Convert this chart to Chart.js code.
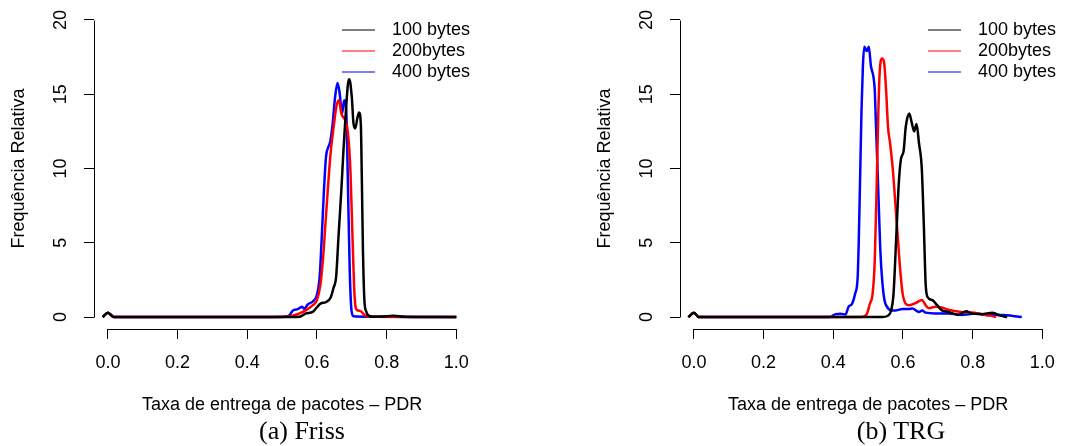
<!DOCTYPE html>
<html><head><meta charset="utf-8">
<script src="https://cdn.jsdelivr.net/npm/chart.js@4.4.1/dist/chart.umd.min.js"></script>
<style>
body{margin:0;background:#fff;width:1068px;height:446px;overflow:hidden;position:relative}
canvas{position:absolute;top:0}
#c1{left:0}
#c2{left:586px}
.cap{position:absolute;top:418px;width:240px;text-align:center;font:26px 'Liberation Serif','Times New Roman',serif;line-height:26px;color:#000}
</style></head><body>
<canvas id="c1" width="482" height="446"></canvas>
<canvas id="c2" width="482" height="446"></canvas>
<div class="cap" style="left:182px">(a) Friss</div>
<div class="cap" style="left:781px">(b) TRG</div>
<script>
// ---- labels / ticks ----
const seriesLabels = ['100 bytes', '200bytes', '400 bytes'];
const seriesColors = ['#000000', '#ff0000', '#0000ff'];
const xTickValues = [0, 0.2, 0.4, 0.6, 0.8, 1.0];
const xTickLabels = ['0.0', '0.2', '0.4', '0.6', '0.8', '1.0'];
const yTickValues = [0, 5, 10, 15, 20];
const xTitle = 'Taxa de entrega de pacotes – PDR';
const yTitle = 'Frequência Relativa';

// ---- (a) Friss ----
const friss100X = [-0.015, 0.0, 0.017, 0.5, 0.55, 0.569, 0.588, 0.597, 0.611, 0.625, 0.639, 0.648, 0.655, 0.662, 0.670, 0.676, 0.682, 0.689, 0.693, 0.700, 0.705, 0.710, 0.716, 0.721, 0.726, 0.729, 0.732, 0.736, 0.741, 0.748, 0.76, 0.80, 0.82, 0.85, 1.0];
const friss100Y = [0, 0.3, 0, 0, 0.03, 0.25, 0.35, 0.58, 0.92, 1.0, 1.3, 2.0, 2.7, 5.5, 8.55, 11.2, 13.5, 15.7, 16.0, 14.8, 13.0, 12.7, 13.4, 13.76, 12.9, 9.0, 4.5, 1.2, 0.4, 0.1, 0.03, 0.05, 0.1, 0.03, 0];
const friss200X = [-0.015, 0.0, 0.017, 0.46, 0.50, 0.53, 0.55, 0.569, 0.588, 0.600, 0.610, 0.618, 0.625, 0.633, 0.639, 0.649, 0.656, 0.663, 0.670, 0.677, 0.682, 0.689, 0.696, 0.702, 0.708, 0.715, 0.724, 0.738, 0.76, 1.0];
const friss200Y = [0, 0.3, 0, 0, 0.03, 0.1, 0.25, 0.47, 0.8, 1.14, 2.2, 4.1, 6.5, 9.2, 11.0, 13.0, 14.2, 14.6, 13.7, 13.4, 13.2, 12.4, 9.9, 5.4, 1.4, 0.47, 0.42, 0.1, 0.02, 0];
const friss400X = [-0.015, 0.0, 0.017, 0.45, 0.51, 0.522, 0.531, 0.545, 0.557, 0.564, 0.573, 0.588, 0.600, 0.608, 0.614, 0.620, 0.626, 0.632, 0.638, 0.645, 0.652, 0.659, 0.665, 0.672, 0.678, 0.684, 0.689, 0.694, 0.699, 0.705, 0.75, 1.0];
const friss400Y = [0, 0.3, 0, 0, 0.03, 0.15, 0.45, 0.54, 0.7, 0.55, 0.84, 1.05, 1.5, 2.8, 5.5, 8.5, 10.8, 11.4, 11.8, 13.0, 14.8, 15.75, 15.1, 13.7, 14.6, 13.9, 8.8, 3.2, 0.47, 0.05, 0.02, 0];

// ---- (b) TRG ----
const trg100X = [-0.016, 0.0, 0.014, 0.54, 0.557, 0.566, 0.573, 0.580, 0.588, 0.594, 0.602, 0.608, 0.618, 0.625, 0.632, 0.639, 0.646, 0.654, 0.660, 0.665, 0.670, 0.684, 0.698, 0.712, 0.730, 0.758, 0.782, 0.796, 0.825, 0.857, 0.880, 0.899];
const trg100Y = [0, 0.3, 0, 0, 0.1, 0.45, 1.6, 5.0, 9.0, 10.6, 11.2, 12.8, 13.7, 13.1, 12.5, 13.0, 11.7, 10.0, 6.1, 2.3, 1.37, 1.15, 0.8, 0.45, 0.35, 0.15, 0.4, 0.25, 0.2, 0.3, 0.1, 0];
const trg200X = [-0.016, 0.0, 0.014, 0.48, 0.496, 0.505, 0.513, 0.519, 0.524, 0.529, 0.533, 0.540, 0.546, 0.552, 0.557, 0.563, 0.571, 0.578, 0.585, 0.592, 0.599, 0.608, 0.618, 0.637, 0.655, 0.665, 0.674, 0.693, 0.711, 0.730, 0.768, 0.805, 0.833, 0.850, 0.867];
const trg200Y = [0, 0.3, 0, 0, 0.2, 0.9, 1.6, 3.8, 8.3, 13.5, 16.4, 17.4, 17.1, 15.1, 12.8, 11.7, 9.9, 7.7, 5.4, 3.2, 1.6, 0.9, 0.8, 0.95, 1.15, 0.8, 0.6, 0.7, 0.65, 0.5, 0.35, 0.3, 0.15, 0.1, 0];
const trg400X = [-0.016, 0.0, 0.014, 0.39, 0.407, 0.421, 0.435, 0.444, 0.454, 0.463, 0.470, 0.473, 0.477, 0.481, 0.485, 0.489, 0.496, 0.502, 0.508, 0.515, 0.519, 0.522, 0.526, 0.531, 0.535, 0.541, 0.547, 0.554, 0.566, 0.580, 0.599, 0.618, 0.627, 0.646, 0.655, 0.665, 0.693, 0.730, 0.768, 0.790, 0.815, 0.840, 0.862, 0.890, 0.915, 0.941];
const trg400Y = [0, 0.3, 0, 0, 0.2, 0.22, 0.18, 0.7, 0.9, 1.6, 2.7, 5.0, 9.4, 13.9, 16.9, 18.2, 17.9, 18.2, 16.9, 16.2, 15.3, 13.3, 10.6, 7.2, 4.5, 2.3, 1.14, 0.7, 0.45, 0.45, 0.55, 0.55, 0.58, 0.35, 0.45, 0.3, 0.25, 0.25, 0.15, 0.2, 0.25, 0.15, 0.15, 0.15, 0.08, 0];

const FONT = "'Liberation Sans', Arial, Helvetica, sans-serif";
Chart.defaults.font.family = FONT;
Chart.defaults.font.size = 18;
Chart.defaults.color = '#000';

const rStyle = {
  id: 'rStyle',
  afterDraw(chart) {
    const {ctx, chartArea, scales: {x, y}} = chart;
    ctx.save();
    ctx.strokeStyle = '#000';
    ctx.lineWidth = 1;
    // detached R-style axis lines
    const ax = Math.round(chartArea.left) + 0.5;
    const ay = Math.round(chartArea.bottom) + 0.5;
    ctx.beginPath();
    ctx.moveTo(ax, Math.round(y.getPixelForValue(yTickValues[0])) + 0.5);
    ctx.lineTo(ax, Math.round(y.getPixelForValue(yTickValues[yTickValues.length - 1])) + 0.5);
    ctx.moveTo(Math.round(x.getPixelForValue(xTickValues[0])), ay);
    ctx.lineTo(Math.round(x.getPixelForValue(xTickValues[xTickValues.length - 1])) + 1, ay);
    ctx.stroke();
    // rotated y tick labels
    ctx.fillStyle = '#000';
    ctx.font = '18px ' + FONT;
    ctx.textAlign = 'center';
    ctx.textBaseline = 'middle';
    yTickValues.forEach(v => {
      ctx.save();
      ctx.translate(61.5, y.getPixelForValue(v));
      ctx.rotate(-Math.PI / 2);
      ctx.fillText(String(v), 0, 0);
      ctx.restore();
    });
    // legend (bty = "n")
    chart.data.datasets.forEach((ds, i) => {
      const yy = 30 + 21 * i;
      ctx.strokeStyle = ds.borderColor;
      ctx.lineWidth = 1;
      ctx.beginPath();
      ctx.moveTo(342, yy);
      ctx.lineTo(375, yy);
      ctx.stroke();
      ctx.textAlign = 'left';
      ctx.fillText(ds.label, 392, yy);
    });
    ctx.restore();
  }
};

function makeChart(id, xs, ys) {
  const datasets = xs.map((xArr, i) => ({
    label: seriesLabels[i],
    data: xArr.map((xv, j) => ({x: xv, y: ys[i][j]})),
    borderColor: seriesColors[i],
    borderWidth: 2.5,
    pointRadius: 0,
    fill: false,
    tension: 0.3,
    cubicInterpolationMode: 'monotone'
  }));
  return new Chart(document.getElementById(id), {
    type: 'line',
    data: {datasets},
    options: {
      responsive: false,
      animation: false,
      events: [],
      layout: {padding: {top: 8, right: 4.6, bottom: 0, left: 0}},
      plugins: {legend: {display: false}, tooltip: {enabled: false}},
      scales: {
        x: {
          type: 'linear', min: -0.04, max: 1.04,
          afterBuildTicks: s => { s.ticks = xTickValues.map(v => ({value: v})); },
          afterFit: s => { s.height = 117; },
          ticks: {
            padding: 13, maxRotation: 0, autoSkip: false,
            callback: (v) => xTickLabels[xTickValues.indexOf(v)] ?? ''
          },
          grid: {drawOnChartArea: false, drawTicks: true, tickLength: 10, color: '#000', lineWidth: 1},
          border: {display: false},
          title: {display: true, text: xTitle, padding: {top: 0, bottom: 30}}
        },
        y: {
          type: 'linear', min: -0.8, max: 20.8,
          afterBuildTicks: s => { s.ticks = yTickValues.map(v => ({value: v})); },
          afterFit: s => { s.width = 94; },
          ticks: {display: false},
          grid: {drawOnChartArea: false, drawTicks: true, tickLength: 10, color: '#000', lineWidth: 1},
          border: {display: false},
          title: {display: true, text: yTitle, padding: {top: 8, bottom: 0}}
        }
      }
    },
    plugins: [rStyle]
  });
}

makeChart('c1', [friss100X, friss200X, friss400X], [friss100Y, friss200Y, friss400Y]);
makeChart('c2', [trg100X, trg200X, trg400X], [trg100Y, trg200Y, trg400Y]);
</script>
</body></html>
